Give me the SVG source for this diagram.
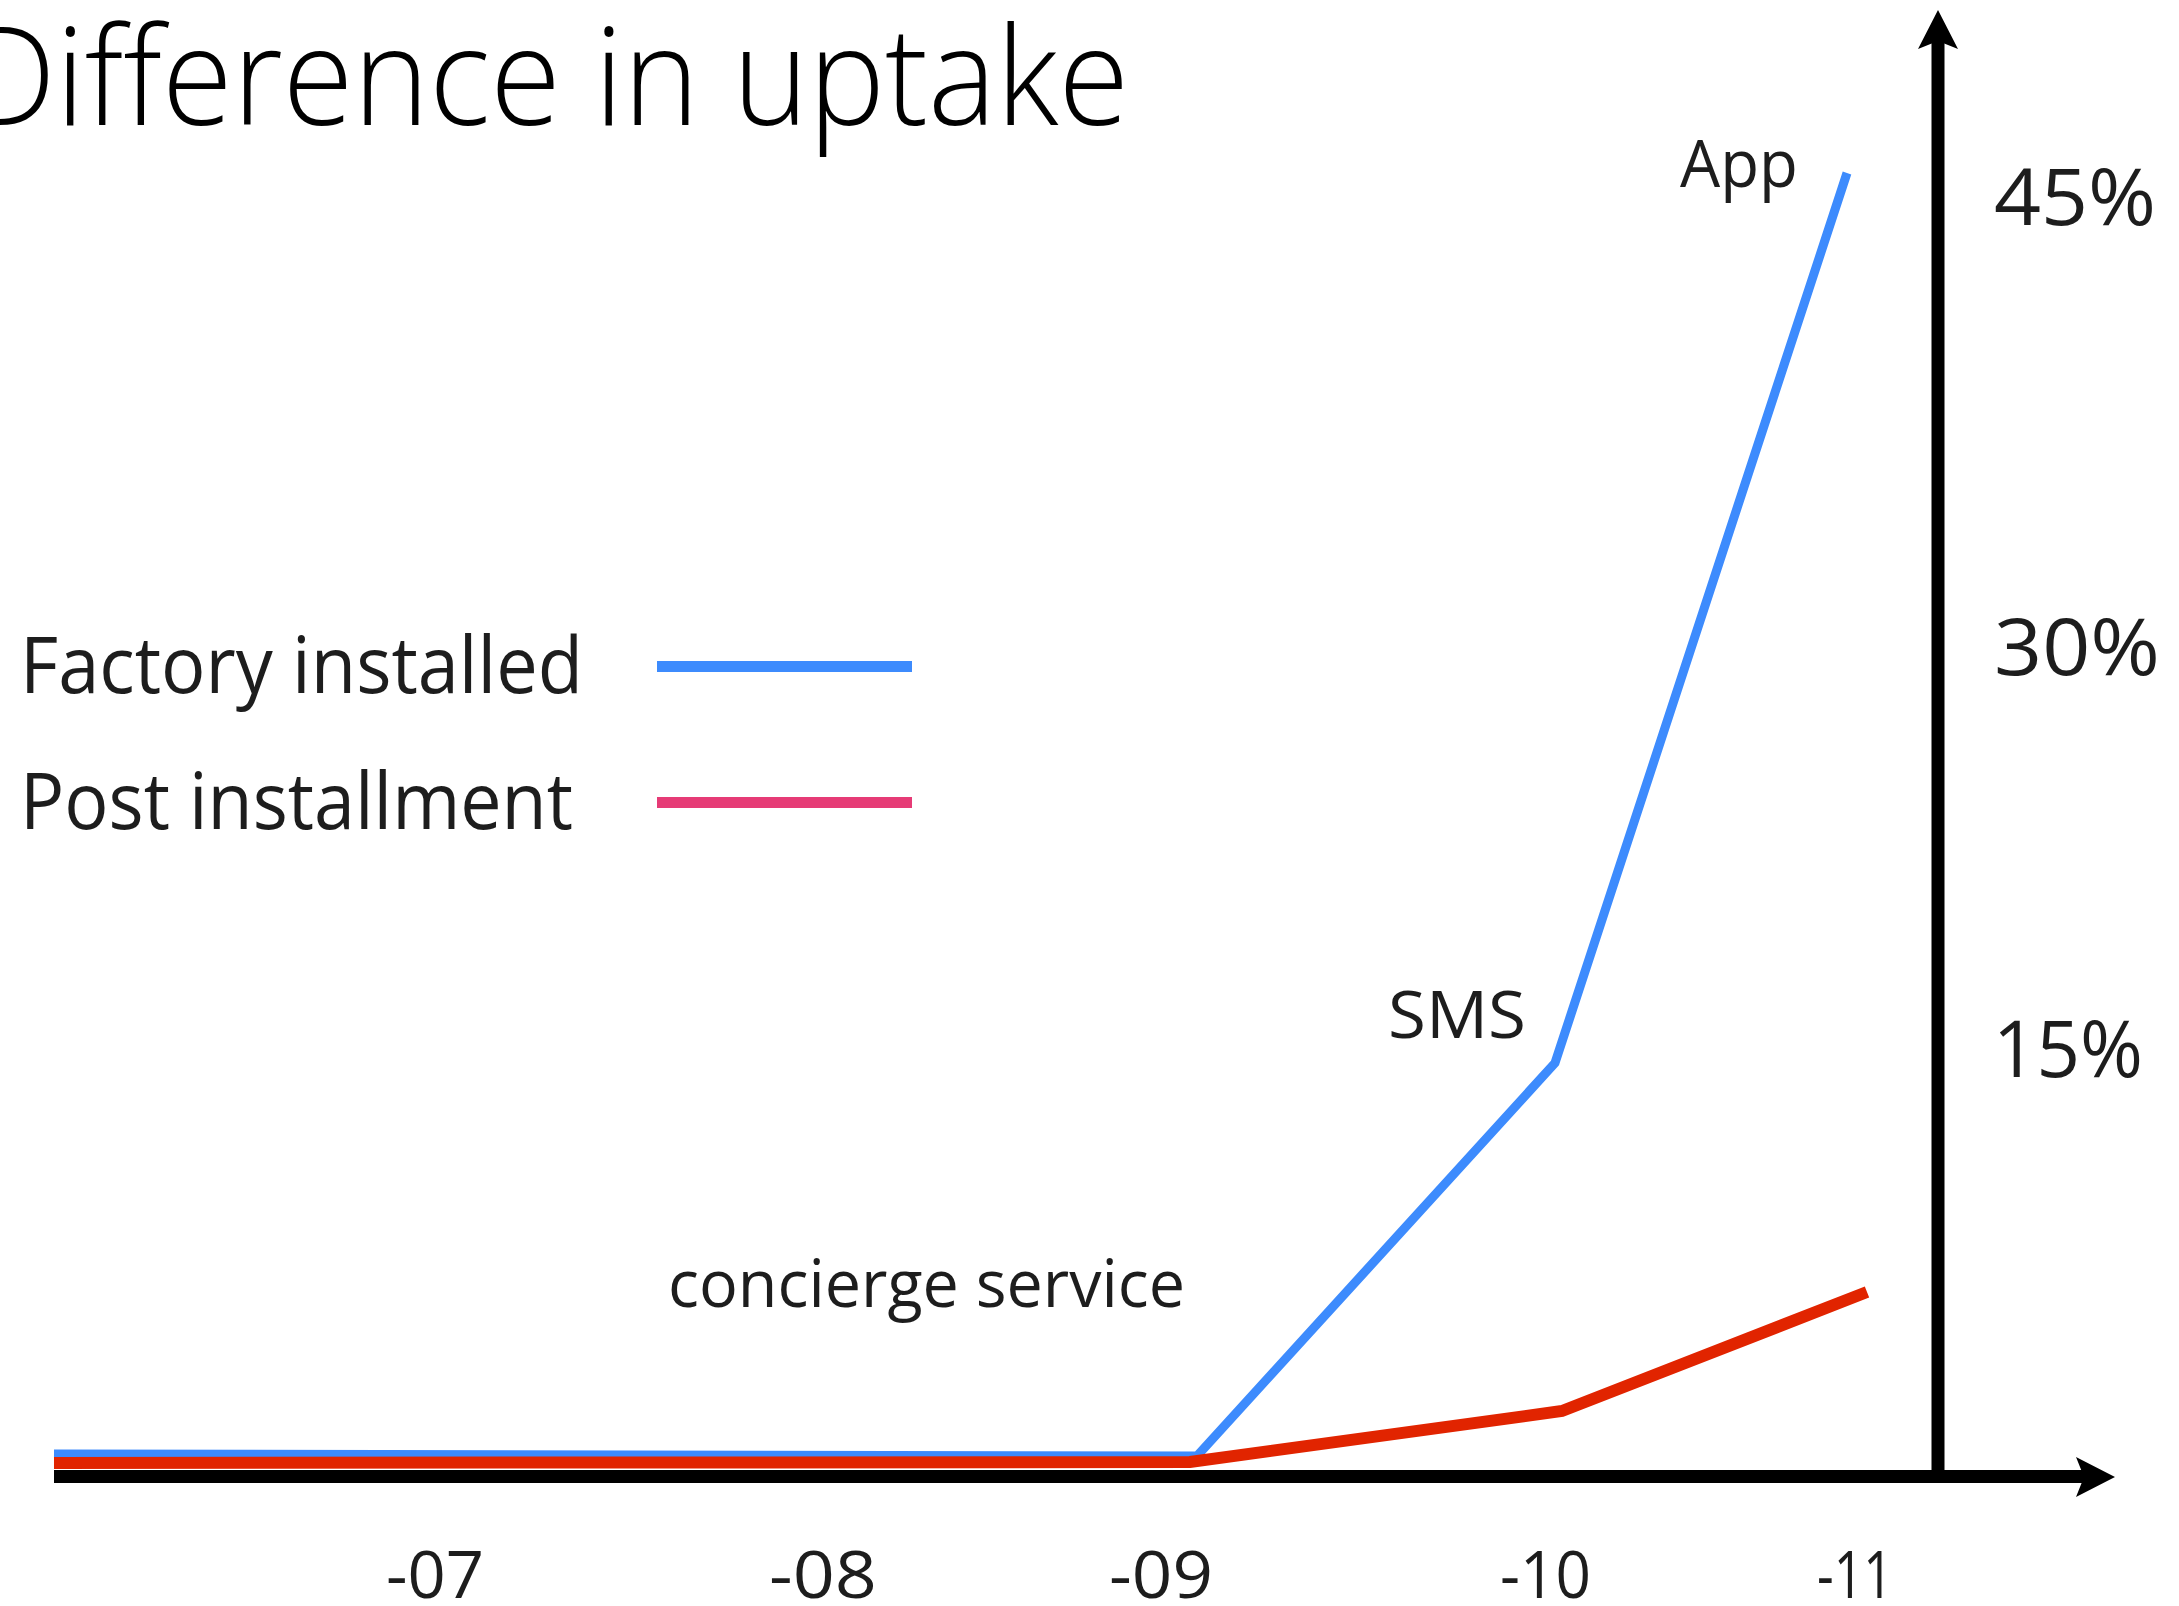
<svg xmlns="http://www.w3.org/2000/svg" width="2179" height="1606" viewBox="0 0 2179 1606">
<style>
  .t { font-family: "Open Sans", "Noto Sans", "Liberation Sans", sans-serif; fill: #1d1d1d; }
  .title { font-family: "Open Sans", "Noto Sans", "Liberation Sans", sans-serif; font-weight: 300; font-size: 136px; fill: #000; }
  .lbl { font-size: 66px; }
  .big { font-size: 79px; }
  .axis { stroke: #000; stroke-width: 13; fill: none; }
  .blue { stroke: #3D8BFD; stroke-width: 9; fill: none; stroke-linejoin: miter; }
  .red { stroke: #E12400; stroke-width: 12; fill: none; stroke-linejoin: miter; }
</style>
<rect width="2179" height="1606" fill="#fff"/>
<g id="title">
  <text class="title" x="-35" y="125" textLength="1164" lengthAdjust="spacingAndGlyphs">Difference in uptake</text>
</g>
<g id="legend">
  <text class="t big" x="20" y="693" textLength="563" lengthAdjust="spacingAndGlyphs">Factory installed</text>
  <line x1="657" y1="666.5" x2="912" y2="666.5" stroke="#3D8BFD" stroke-width="11"/>
  <text class="t big" x="20" y="829" textLength="553" lengthAdjust="spacingAndGlyphs">Post installment</text>
  <line x1="657" y1="802.5" x2="912" y2="802.5" stroke="#E63B76" stroke-width="11"/>
</g>
<g id="connectors">
  <g id="y-axis">
    <line class="axis" x1="1938" y1="40" x2="1938" y2="1476"/>
    <polygon points="1938,10 1958,49 1938,41 1918,49" fill="#000"/>
  </g>
  <g id="x-axis">
    <line class="axis" x1="54" y1="1476.5" x2="2086" y2="1476.5"/>
    <polygon points="2115,1477 2076,1497 2084,1477 2076,1457" fill="#000"/>
  </g>
  <g id="series-factory">
    <polyline class="blue" points="54,1454 1197,1456 1555,1063 1847,173"/>
  </g>
  <g id="series-post">
    <polyline class="red" points="54,1463 1190,1462 1562,1411 1867,1292"/>
  </g>
</g>
<g id="y-labels">
  <text class="t big" x="1994" y="225" textLength="162" lengthAdjust="spacingAndGlyphs">45%</text>
  <text class="t big" x="1994" y="675" textLength="166" lengthAdjust="spacingAndGlyphs">30%</text>
  <text class="t big" x="1993" y="1077" textLength="150" lengthAdjust="spacingAndGlyphs">15%</text>
</g>
<g id="annotations">
  <text class="t lbl" x="1680" y="187" textLength="118" lengthAdjust="spacingAndGlyphs">App</text>
  <text class="t lbl" x="1388" y="1038" textLength="138" lengthAdjust="spacingAndGlyphs">SMS</text>
  <text class="t lbl" x="668" y="1307" textLength="517" lengthAdjust="spacingAndGlyphs">concierge service</text>
</g>
<g id="x-labels">
  <text class="t lbl" x="386" y="1598" textLength="98" lengthAdjust="spacingAndGlyphs">-07</text>
  <text class="t lbl" x="769" y="1598" textLength="108" lengthAdjust="spacingAndGlyphs">-08</text>
  <text class="t lbl" x="1109" y="1598" textLength="104" lengthAdjust="spacingAndGlyphs">-09</text>
  <text class="t lbl" x="1500" y="1598" textLength="91" lengthAdjust="spacingAndGlyphs">-10</text>
  <text class="t lbl" x="1817" y="1598" textLength="76" lengthAdjust="spacingAndGlyphs">-11</text>
</g>
</svg>
